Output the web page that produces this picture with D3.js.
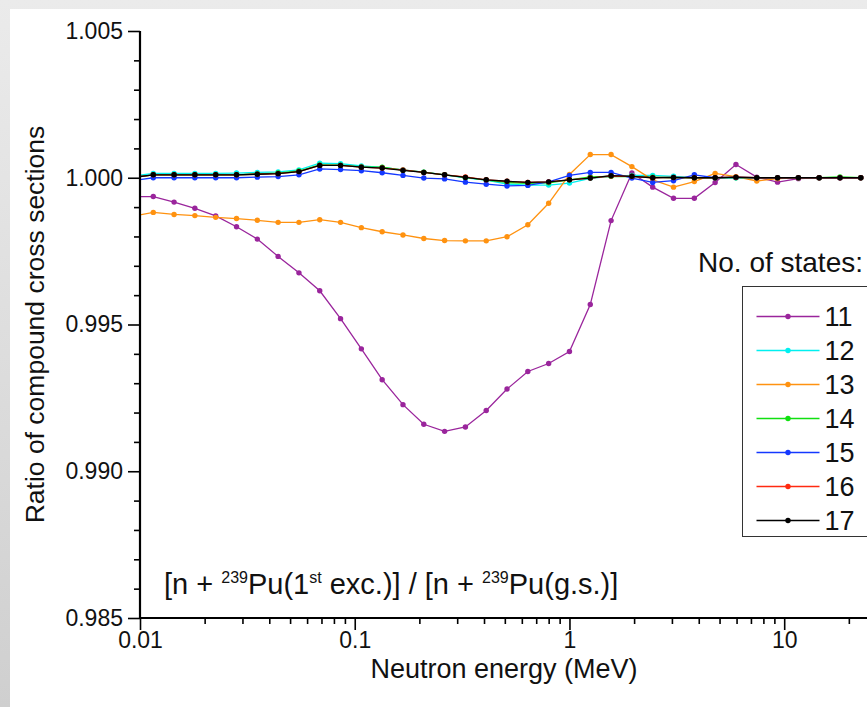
<!DOCTYPE html>
<html>
<head>
<meta charset="utf-8">
<script src="https://cdn.jsdelivr.net/npm/d3@7/dist/d3.min.js"></script>
<style>
  html, body { margin: 0; padding: 0; background: #fff; }
  svg { display: block; font-family: "Liberation Sans", Arial, sans-serif; }
</style>
</head>
<body>
<svg id="chart" width="867" height="707"></svg>
<script>
// neutron energies (MeV); first point lies just left of the axis and is clipped
var energies = [0.009223, 0.01153, 0.01441, 0.01801, 0.02252, 0.02815, 0.03518, 0.04398,
    0.05498, 0.06872, 0.08590, 0.10737, 0.13422, 0.16777, 0.20972, 0.26214, 0.32768,
    0.4096, 0.512, 0.64, 0.8, 1.0, 1.25, 1.5625, 1.9531, 2.4414, 3.0518, 3.8147,
    4.7684, 5.9605, 7.4506, 9.3132, 11.642, 14.552, 18.190, 22.737];

var s11 = [0.99936, 0.99936, 0.99917, 0.99896, 0.99870, 0.99833, 0.99791, 0.99732, 0.99676,
    0.99615, 0.99520, 0.99417, 0.99312, 0.99227, 0.99160, 0.99136, 0.99151, 0.99207, 0.99280,
    0.99340, 0.99367, 0.99408, 0.99568, 0.99854, 1.00016, 0.99968, 0.99930, 0.99930, 0.99984,
    1.00045, 1.00002, 0.99985, 0.99997, 1.0, 1.0, 1.0];
var s12 = [1.00005, 1.00015, 1.00015, 1.00015, 1.00015, 1.00016, 1.00018, 1.0002, 1.00027,
    1.0005, 1.00048, 1.0004, 1.00035, 1.00027, 1.00019, 1.0001, 1.0, 0.99992, 0.99978,
    0.99975, 0.99975, 0.99982, 0.99998, 1.00005, 1.00008, 1.00008, 1.00005, 1.0, 1.0,
    1.0, 1.0, 1.0, 1.0, 1.0, 1.0, 1.0];
var s13 = [0.99869, 0.99882, 0.99875, 0.99871, 0.99865, 0.99861, 0.99855, 0.99848, 0.99848,
    0.99857, 0.99848, 0.99830, 0.99816, 0.99805, 0.99793, 0.99786, 0.99785, 0.99785, 0.99799,
    0.99840, 0.99913, 1.00011, 1.00079, 1.00079, 1.00038, 0.99993, 0.99968, 0.99987, 1.00015,
    1.00004, 0.99989, 0.99997, 1.0, 1.0, 1.0, 1.0];
var s14 = [1.0, 1.0001, 1.0001, 1.0001, 1.0001, 1.0001, 1.00013, 1.00016, 1.00023,
    1.00044, 1.00043, 1.00037, 1.00036, 1.00026, 1.00019, 1.0001, 1.00001, 0.99992, 0.99984,
    0.99981, 0.99983, 0.99993, 1.00003, 1.00005, 1.00004, 1.00002, 1.0, 1.0, 1.0,
    1.0, 1.0, 1.0, 1.0, 1.0, 1.00003, 1.0];
var s15 = [0.9999, 1.0, 1.0, 1.0, 1.0, 1.0, 1.00002, 1.00004, 1.0001,
    1.0003, 1.00028, 1.00024, 1.00017, 1.00008, 0.99999, 0.99996, 0.99985, 0.99978, 0.99972,
    0.99974, 0.99986, 1.00008, 1.00018, 1.00018, 0.99999, 0.99984, 0.9999, 1.0001, 1.0,
    1.00001, 1.0, 1.0, 1.0, 1.0, 1.0, 1.0];
var s16 = [1.0, 1.0001, 1.0001, 1.0001, 1.0001, 1.0001, 1.00012, 1.00014, 1.00021,
    1.00042, 1.00042, 1.00036, 1.00033, 1.00027, 1.00018, 1.0001, 1.00003, 0.99993, 0.99988,
    0.99984, 0.99986, 0.99993, 0.99999, 1.00006, 1.00005, 1.0, 1.00001, 1.0, 1.0,
    1.00002, 1.0, 1.0, 1.0, 1.0, 1.0, 1.0];
var s17 = [1.00001, 1.0001, 1.0001, 1.0001, 1.0001, 1.0001, 1.00012, 1.00014, 1.00021,
    1.00042, 1.00042, 1.00036, 1.00033, 1.00025, 1.00018, 1.0001, 1.00001, 0.99993, 0.99988,
    0.99984, 0.99986, 0.99993, 0.99999, 1.00007, 1.00005, 1.0, 1.00001, 1.0, 1.0,
    1.00002, 1.0, 1.0, 1.0, 1.0, 1.0, 1.0];

var seriesNames = ["11", "12", "13", "14", "15", "16", "17"];
var seriesColors = ["#9a259c", "#00f0f0", "#ff9210", "#10e010", "#1438ff", "#ff2a10", "#000000"];
var seriesValues = [s11, s12, s13, s14, s15, s16, s17];

var xMajor = [0.01, 0.1, 1, 10];
var xMajorLabels = ["0.01", "0.1", "1", "10"];
var yMajor = [0.985, 0.990, 0.995, 1.000, 1.005];

var svg = d3.select("#chart");

// grey frame behind a white sheet
var defs = svg.append("defs");
var grad = defs.append("linearGradient").attr("id", "bg").attr("x1", 0).attr("y1", 0).attr("x2", 0).attr("y2", 1);
grad.append("stop").attr("offset", "0%").attr("stop-color", "#ebebeb");
grad.append("stop").attr("offset", "100%").attr("stop-color", "#cfcfcf");
svg.append("rect").attr("width", 867).attr("height", 707).attr("fill", "url(#bg)");
svg.append("rect").attr("x", 10).attr("y", 9).attr("width", 857).attr("height", 698).attr("fill", "#fff");

var x = d3.scaleLog().domain([0.01, 24.3]).range([140, 867]);
var y = d3.scaleLinear().domain([0.985, 1.005]).range([618, 31]);

defs.append("clipPath").attr("id", "plotclip")
    .append("rect")
    .attr("x", x.range()[0]).attr("y", y.range()[1] - 5)
    .attr("width", x.range()[1] - x.range()[0]).attr("height", y.range()[0] - y.range()[1] + 5);

var series = seriesNames.map(function(name, i) {
    return {
        name: name,
        color: seriesColors[i],
        points: energies.map(function(e, j) { return {e: e, v: seriesValues[i][j]}; })
    };
});

var line = d3.line()
    .x(function(d) { return x(d.e); })
    .y(function(d) { return y(d.v); });

var plot = svg.append("g").attr("clip-path", "url(#plotclip)");

var groups = plot.selectAll("g.series")
    .data(series)
    .enter()
    .append("g")
    .classed("series", true);

groups.append("path")
    .attr("fill", "none")
    .attr("stroke", function(d) { return d.color; })
    .attr("stroke-width", 1.3)
    .attr("d", function(d) { return line(d.points); });

groups.selectAll("circle")
    .data(function(d) { return d.points.map(function(p) { return {e: p.e, v: p.v, color: d.color}; }); })
    .enter()
    .append("circle")
    .attr("cx", function(d) { return x(d.e); })
    .attr("cy", function(d) { return y(d.v); })
    .attr("r", 2.7)
    .attr("fill", function(d) { return d.color; });

// y axis: minor ticks every 0.001, labelled majors
var yMinor = d3.range(0.985, 1.0055, 0.001).filter(function(v) {
    return Math.abs(Math.round(v * 200) - v * 200) > 1e-6;
});
svg.append("g")
    .attr("transform", "translate(140,0)")
    .call(d3.axisLeft(y).tickValues(yMinor).tickSize(6).tickFormat(""))
    .call(function(g) { g.select(".domain").remove(); });
var yAxis = svg.append("g")
    .attr("transform", "translate(140,0)")
    .call(d3.axisLeft(y).tickValues(yMajor).tickSize(12).tickPadding(5).tickFormat(d3.format(".3f")));

// x axis: log minor ticks
var xMinor = [];
[0.01, 0.1, 1, 10].forEach(function(dec) {
    for (var k = 2; k <= 9; k++) {
        if (dec * k <= 24.3) xMinor.push(dec * k);
    }
});
svg.append("g")
    .attr("transform", "translate(0,618)")
    .call(d3.axisBottom(x).tickValues(xMinor).tickSize(6).tickFormat(""))
    .call(function(g) { g.select(".domain").remove(); });
var xAxis = svg.append("g")
    .attr("transform", "translate(0,618)")
    .call(d3.axisBottom(x).tickValues(xMajor).tickSize(12).tickPadding(2)
        .tickFormat(function(d, i) { return xMajorLabels[i]; }));

svg.selectAll(".domain").attr("stroke", "#000").attr("stroke-width", 2.2);
svg.selectAll(".tick line").attr("stroke", "#000").attr("stroke-width", 1.6);
svg.selectAll(".tick text").attr("fill", "#111").style("font-size", "23px")
    .style("font-family", "'Liberation Sans', Arial, sans-serif");
// axis lines only over the drawn range
yAxis.select(".domain").attr("d", "M0," + y(0.985) + "V" + y(1.005));
xAxis.select(".domain").attr("d", "M" + x(0.01) + ",0H867");

// axis titles
svg.append("text")
    .attr("transform", "translate(44," + ((y.range()[0] + y.range()[1]) / 2) + ") rotate(-90)")
    .attr("text-anchor", "middle")
    .style("font-size", "26.5px")
    .attr("fill", "#111")
    .text("Ratio of compound cross sections");

svg.append("text")
    .attr("x", 504)
    .attr("y", 678)
    .attr("text-anchor", "middle")
    .style("font-size", "27px")
    .attr("fill", "#111")
    .text("Neutron energy (MeV)");

// reaction label with superscripts
var note = svg.append("text")
    .attr("x", 164)
    .attr("y", 594)
    .style("font-size", "29px")
    .attr("fill", "#111");
var noteParts = [
    ["[n + ", false], ["239", true], ["Pu(1", false], ["st", true],
    [" exc.)] / [n + ", false], ["239", true], ["Pu(g.s.)]", false]
];
var wasSup = false;
noteParts.forEach(function(p) {
    var t = note.append("tspan").text(p[0]);
    if (p[1]) {
        t.attr("dy", -11).style("font-size", "16px");
    } else if (wasSup) {
        t.attr("dy", 11);
    }
    wasSup = p[1];
});

// legend
svg.append("text")
    .attr("x", 863)
    .attr("y", 272)
    .attr("text-anchor", "end")
    .style("font-size", "28px")
    .attr("fill", "#111")
    .text("No. of states:");

var legend = svg.append("g").attr("transform", "translate(742.5,286.5)");
legend.append("rect")
    .attr("width", 140)
    .attr("height", 250)
    .attr("fill", "#fff")
    .attr("stroke", "#333")
    .attr("stroke-width", 1);

var items = legend.selectAll("g.item")
    .data(series)
    .enter()
    .append("g")
    .classed("item", true)
    .attr("transform", function(d, i) { return "translate(0," + (30 + i * 34) + ")"; });

items.append("line")
    .attr("x1", 14).attr("x2", 77)
    .attr("stroke", function(d) { return d.color; })
    .attr("stroke-width", 1.3);
items.append("circle")
    .attr("cx", 45.5)
    .attr("r", 2.7)
    .attr("fill", function(d) { return d.color; });
items.append("text")
    .attr("x", 82)
    .attr("dy", "0.36em")
    .style("font-size", "27px")
    .attr("fill", "#111")
    .text(function(d) { return d.name; });
</script>
</body>
</html>
